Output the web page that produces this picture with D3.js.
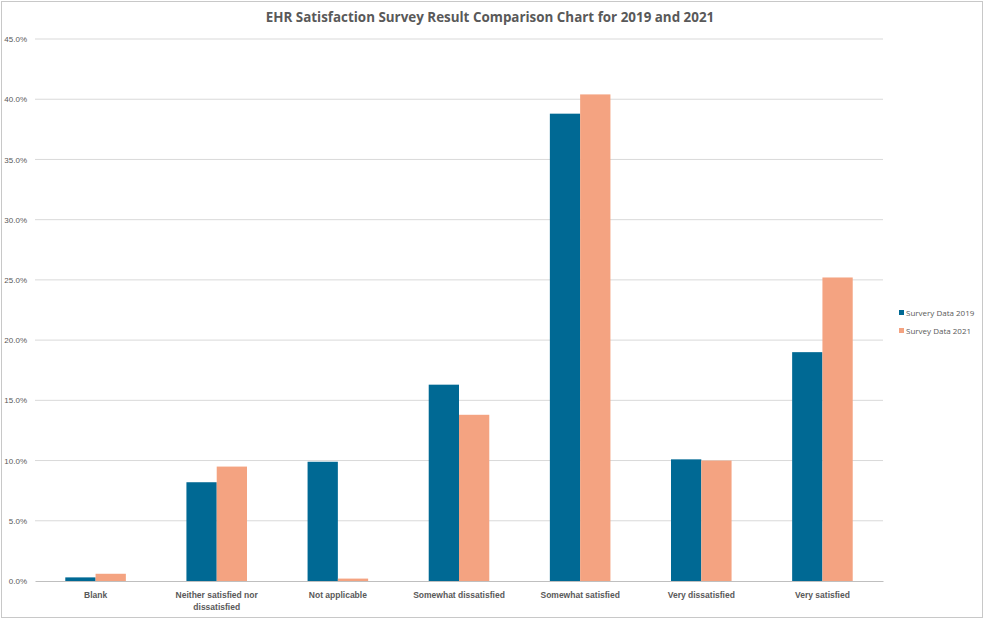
<!DOCTYPE html>
<html lang="en">
<head>
<meta charset="UTF-8">
<title>EHR Satisfaction Survey</title>
<script src="https://cdn.jsdelivr.net/npm/d3@7"></script>
<style>
    body { margin: 0; background: #fff; font-family: "Open Sans", "Noto Sans", sans-serif; }
    svg { display: block; }
    .tick text { fill: #595959; }
</style>
</head>
<body>
<div id="chart"></div>
<script>
    // data
    const categories = ["Blank", "Neither satisfied nor dissatisfied", "Not applicable",
        "Somewhat dissatisfied", "Somewhat satisfied", "Very dissatisfied", "Very satisfied"];
    const seriesNames = ["Survery Data 2019", "Survey Data 2021"];
    const values2019 = [0.003, 0.082, 0.099, 0.163, 0.388, 0.101, 0.190];
    const values2021 = [0.006, 0.095, 0.002, 0.138, 0.404, 0.100, 0.252];
    const yTicks = [0, 0.05, 0.10, 0.15, 0.20, 0.25, 0.30, 0.35, 0.40, 0.45];
    const colors = ["#006994", "#F4A381"];

    const W = 985, H = 620;
    const margin = { top: 39, right: 102, bottom: 39, left: 35 };
    const width = W - margin.left - margin.right;
    const height = H - margin.top - margin.bottom;

    const svg = d3.select("#chart").append("svg")
        .attr("width", W).attr("height", H);

    // outer chart frame
    svg.append("rect")
        .attr("x", 1.5).attr("y", 1.5)
        .attr("width", W - 4).attr("height", H - 4)
        .attr("fill", "none").attr("stroke", "#c8c8c8");

    const g = svg.append("g").attr("transform", `translate(${margin.left},${margin.top})`);

    const x = d3.scaleBand().domain(categories).range([0, width]).paddingInner(0.5).paddingOuter(0.25);
    const x1 = d3.scaleBand().domain(seriesNames).range([0, x.bandwidth()]);
    const y = d3.scaleLinear().domain([0, 0.45]).range([height, 0]);

    // gridlines
    g.append("g").selectAll("line")
        .data(yTicks.slice(1))
        .enter().append("line")
        .attr("x1", 0).attr("x2", width)
        .attr("y1", d => y(d)).attr("y2", d => y(d))
        .attr("stroke", "#d9d9d9").attr("stroke-width", 1);

    // y axis
    const yAxis = g.append("g")
        .call(d3.axisLeft(y).tickValues(yTicks).tickFormat(d3.format(".1%")).tickSize(0).tickPadding(8));
    yAxis.select(".domain").remove();
    yAxis.selectAll("text").attr("font-size", 8).attr("fill", "#595959");

    // bars
    const series = [values2019, values2021];
    const groups = g.append("g").selectAll("g")
        .data(categories)
        .enter().append("g")
        .attr("transform", d => `translate(${x(d)},0)`);

    groups.selectAll("rect")
        .data((d, i) => seriesNames.map((s, k) => ({ s: s, v: series[k][i], k: k })))
        .enter().append("rect")
        .attr("x", d => x1(d.s))
        .attr("width", x1.bandwidth())
        .attr("y", d => y(d.v))
        .attr("height", d => height - y(d.v))
        .attr("fill", d => colors[d.k]);

    // x axis
    const xAxis = g.append("g")
        .attr("transform", `translate(0,${height})`)
        .call(d3.axisBottom(x).tickSize(0).tickPadding(11));
    xAxis.select(".domain").attr("stroke", "#bfbfbf");
    xAxis.selectAll("text")
        .attr("font-size", 8.5).attr("font-weight", "bold").attr("fill", "#595959")
        .each(function (d) {
            // wrap long labels like the original
            const t = d3.select(this);
            if (d === "Neither satisfied nor dissatisfied") {
                t.text(null);
                t.append("tspan").attr("x", 0).attr("dy", "0.71em").text("Neither satisfied nor");
                t.append("tspan").attr("x", 0).attr("dy", "1.4em").text("dissatisfied");
            }
        });

    // title
    svg.append("text")
        .attr("x", 490).attr("y", 22)
        .attr("text-anchor", "middle")
        .attr("font-size", 13.4).attr("font-weight", "bold").attr("fill", "#595959")
        .text("EHR Satisfaction Survey Result Comparison Chart for 2019 and 2021");

    // legend
    const legend = svg.append("g").attr("transform", "translate(899,310)");
    const items = legend.selectAll("g").data(seriesNames).enter().append("g")
        .attr("transform", (d, i) => `translate(0,${i * 18})`);
    items.append("rect").attr("width", 5).attr("height", 5).attr("fill", (d, i) => colors[i]);
    items.append("text").attr("x", 7).attr("y", 5.5)
        .attr("font-size", 8).attr("fill", "#595959").text(d => d);
</script>
</body>
</html>
